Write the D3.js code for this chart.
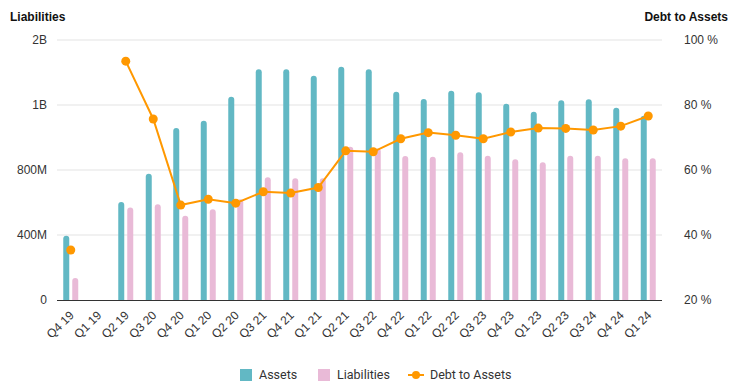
<!DOCTYPE html>
<html>
<head>
<meta charset="utf-8">
<script src="https://cdn.jsdelivr.net/npm/d3@7"></script>
<style>
  body { margin: 0; background: #fff; }
  svg { display: block; }
</style>
</head>
<body>
<div id="chart"></div>
<script>
// data
var quarters = ["Q4 19","Q1 19","Q2 19","Q3 20","Q4 20","Q1 20","Q2 20","Q3 21","Q4 21","Q1 21","Q2 21",
  "Q3 22","Q4 22","Q1 22","Q2 22","Q3 23","Q4 23","Q1 23","Q2 23","Q3 24","Q4 24","Q1 24"];
var assets = [395e6, null, 603e6, 777e6, 1058e6, 1103e6, 1251e6, 1420e6, 1420e6, 1380e6, 1436e6,
  1420e6, 1282e6, 1237e6, 1288e6, 1278e6, 1208e6, 1159e6, 1229e6, 1235e6, 1183e6, 1134e6];
var liabilities = [135e6, null, 570e6, 589e6, 519e6, 558e6, 620e6, 755e6, 749e6, 749e6, 943e6,
  933e6, 886e6, 882e6, 909e6, 888e6, 866e6, 847e6, 888e6, 888e6, 872e6, 872e6];
var debtToAssets = [35.4, null, 93.5, 75.7, 49.2, 51.0, 49.8, 53.3, 52.9, 54.6, 65.9,
  65.6, 69.6, 71.5, 70.7, 69.6, 71.7, 72.9, 72.8, 72.3, 73.5, 76.6];
var leftTicks = [0, 400e6, 800e6, 1200e6, 1600e6];
var leftTickLabels = ["0", "400M", "800M", "1B", "2B"];
var rightTicks = [20, 40, 60, 80, 100];

//Config
var width = 743, height = 392;
var margin = {left: 57, right: 81, top: 40, bottom: 92};
var assetColor = "#62b8c4";
var liabColor = "#e9bad7";
var lineColor = "#ff9800";
var textColor = "#333333";
var axisFont = "'Liberation Sans', Arial, sans-serif";

var svg = d3.select("#chart").append("svg")
  .attr("width", width)
  .attr("height", height);

var x = d3.scaleBand()
  .domain(quarters)
  .range([margin.left, width - margin.right]);

var xSub = d3.scaleBand()
  .domain(["assets", "liabilities"])
  .range([x.bandwidth()/2 - 7.5, x.bandwidth()/2 + 7.5])
  .paddingInner(1/3);

var yLeft = d3.scaleLinear()
  .domain([0, 1600e6])
  .range([height - margin.bottom, margin.top]);

var yRight = d3.scaleLinear()
  .domain([20, 100])
  .range([height - margin.bottom, margin.top]);

// gridlines
svg.append("g")
  .selectAll("line")
  .data(leftTicks.slice(1))
  .enter()
  .append("line")
  .attr("x1", margin.left)
  .attr("x2", width - margin.right)
  .attr("y1", function(d) { return yLeft(d); })
  .attr("y2", function(d) { return yLeft(d); })
  .attr("stroke", "#e3e3e3")
  .attr("stroke-width", 1);

// left axis
var leftAxis = svg.append("g")
  .attr("transform", "translate(" + margin.left + ",0)")
  .call(d3.axisLeft(yLeft)
    .tickValues(leftTicks)
    .tickSize(0)
    .tickPadding(10)
    .tickFormat(function(d, i) { return leftTickLabels[i]; }));
leftAxis.select(".domain").remove();
leftAxis.selectAll("text")
  .attr("fill", textColor)
  .style("font-family", axisFont)
  .style("font-size", "12px");

// right axis
var rightAxis = svg.append("g")
  .attr("transform", "translate(" + (width - margin.right) + ",0)")
  .call(d3.axisRight(yRight)
    .tickValues(rightTicks)
    .tickSize(0)
    .tickPadding(22)
    .tickFormat(function(d) { return d + " %"; }));
rightAxis.select(".domain").remove();
rightAxis.selectAll("text")
  .attr("fill", textColor)
  .style("font-family", axisFont)
  .style("font-size", "12px");

// rounded-top bar path
function barPath(x0, w, yTop, yBase) {
  var r = Math.min(3, w/2, (yBase - yTop));
  return "M" + x0 + "," + yBase +
    "V" + (yTop + r) +
    "A" + r + "," + r + " 0 0 1 " + (x0 + r) + "," + yTop +
    "H" + (x0 + w - r) +
    "A" + r + "," + r + " 0 0 1 " + (x0 + w) + "," + (yTop + r) +
    "V" + yBase + "Z";
}

var barData = [];
quarters.forEach(function(q, i) {
  if (assets[i] != null) barData.push({q: q, key: "assets", val: assets[i], color: assetColor});
  if (liabilities[i] != null) barData.push({q: q, key: "liabilities", val: liabilities[i], color: liabColor});
});

svg.append("g")
  .attr("class", "bars")
  .selectAll("path")
  .data(barData)
  .enter()
  .append("path")
  .attr("fill", function(d) { return d.color; })
  .attr("d", function(d) {
    return barPath(x(d.q) + xSub(d.key), xSub.bandwidth(), yLeft(d.val), yLeft(0));
  });

// baseline
svg.append("line")
  .attr("x1", margin.left)
  .attr("x2", width - margin.right)
  .attr("y1", yLeft(0) + 0.5)
  .attr("y2", yLeft(0) + 0.5)
  .attr("stroke", "#333")
  .attr("stroke-width", 1);

// x labels
svg.append("g")
  .selectAll("text")
  .data(quarters)
  .enter()
  .append("text")
  .attr("transform", function(d) {
    return "translate(" + (x(d) + x.bandwidth()/2 + 1) + "," + (yLeft(0) + 13) + ") rotate(-45)";
  })
  .attr("text-anchor", "end")
  .attr("dy", "0.35em")
  .attr("fill", textColor)
  .style("font-family", axisFont)
  .style("font-size", "12px")
  .text(function(d) { return d; });

// debt to assets line
var lineData = quarters.map(function(q, i) { return {q: q, val: debtToAssets[i]}; });
var line = d3.line()
  .defined(function(d) { return d.val != null; })
  .x(function(d) { return x(d.q) + x.bandwidth()/2; })
  .y(function(d) { return yRight(d.val); });

svg.append("path")
  .datum(lineData)
  .attr("fill", "none")
  .attr("stroke", lineColor)
  .attr("stroke-width", 2)
  .attr("d", line);

svg.append("g")
  .selectAll("circle")
  .data(lineData.filter(function(d) { return d.val != null; }))
  .enter()
  .append("circle")
  .attr("cx", function(d) { return x(d.q) + x.bandwidth()/2; })
  .attr("cy", function(d) { return yRight(d.val); })
  .attr("r", 4.5)
  .attr("fill", lineColor);

// axis titles
svg.append("text")
  .attr("x", 10)
  .attr("y", 21)
  .attr("fill", "#111")
  .style("font-family", axisFont)
  .style("font-size", "12px")
  .style("font-weight", "bold")
  .text("Liabilities");

svg.append("text")
  .attr("x", 728)
  .attr("y", 21)
  .attr("text-anchor", "end")
  .attr("fill", "#111")
  .style("font-family", axisFont)
  .style("font-size", "12px")
  .style("font-weight", "bold")
  .text("Debt to Assets");

// legend
var legend = svg.append("g").attr("class", "legend");
var legendY = 375;
legend.append("rect").attr("x", 240).attr("y", legendY - 6).attr("width", 12).attr("height", 12).attr("fill", assetColor);
legend.append("text").attr("x", 259).attr("y", legendY).attr("dy", "0.35em").text("Assets");
legend.append("rect").attr("x", 318).attr("y", legendY - 6).attr("width", 12).attr("height", 12).attr("fill", liabColor);
legend.append("text").attr("x", 337).attr("y", legendY).attr("dy", "0.35em").text("Liabilities");
legend.append("line").attr("x1", 408).attr("x2", 424).attr("y1", legendY).attr("y2", legendY)
  .attr("stroke", lineColor).attr("stroke-width", 2);
legend.append("circle").attr("cx", 416).attr("cy", legendY).attr("r", 4).attr("fill", lineColor);
legend.append("text").attr("x", 430).attr("y", legendY).attr("dy", "0.35em").text("Debt to Assets");
legend.selectAll("text")
  .attr("fill", textColor)
  .style("font-family", "Roboto, sans-serif")
  .style("font-size", "12.5px");
</script>
</body>
</html>
